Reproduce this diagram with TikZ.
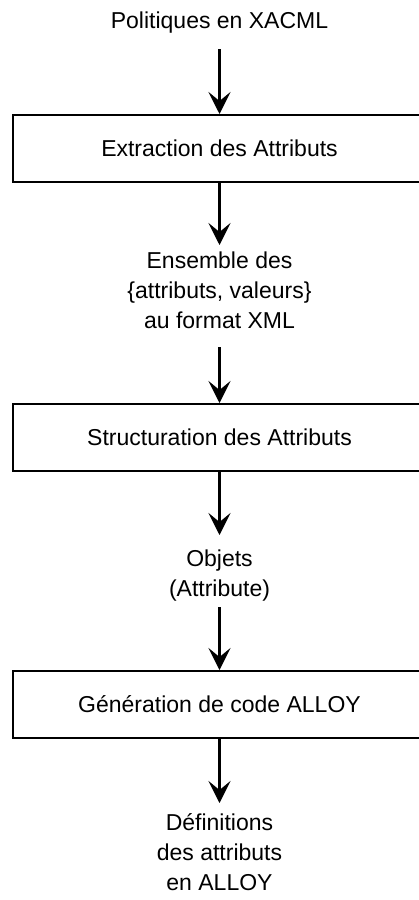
\documentclass[tikz,border=0pt]{standalone}
\usepackage{fontspec}
\setmainfont{Liberation Sans}
\usetikzlibrary{arrows.meta}

\begin{document}
\begin{tikzpicture}[x=1pt, y=-1pt,
  txt/.style={font=\fontsize{23}{30}\selectfont, align=center, inner sep=0pt, anchor=north},
  stage/.style={draw=black, line width=2pt, rectangle, minimum width=413pt, minimum height=67pt,
    inner sep=0pt, font=\fontsize{23}{30}\selectfont, text height=16.5pt, text depth=0pt},
  flow/.style={line width=2.6pt, -{Stealth[length=22pt, width=22pt, inset=9pt]}}
]
  \useasboundingbox (0,0) rectangle (419,900);
  \clip (0,0) rectangle (419,900);

  % inputs, processing stages and outputs
  \node[txt] (pol) at (219.5,7) {\strut Politiques en XACML};
  \node[stage] (ext) at (219.5,148.5) {Extraction des Attributs};
  \node[txt] (ens) at (219.5,247) {\strut Ensemble des\\\strut\{attributs, valeurs\}\\\strut au format XML};
  \node[stage] (str) at (219.5,437.5) {Structuration des Attributs};
  \node[txt] (obj) at (219.5,545) {\strut Objets\\\strut(Attribute)};
  \node[stage] (gen) at (219.5,704.5) {Génération de code ALLOY};
  \node[txt] (def) at (219.5,809) {\strut Définitions\\\strut des attributs\\\strut en ALLOY};

  % connectors
  \draw[flow, shorten <=12pt] (pol.south -| ext.north) -- (ext.north);
  \draw[flow, shorten >=2pt] (ext.south) -- (ens.north);
  \draw[flow, shorten <=10pt] (ens.south) -- (str.north);
  \draw[flow, shorten >=10pt] (str.south) -- (obj.north);
  \draw[flow, shorten <=2pt] (obj.south) -- (gen.north);
  \draw[flow, shorten >=6pt] (gen.south) -- (def.north);
\end{tikzpicture}
\end{document}
